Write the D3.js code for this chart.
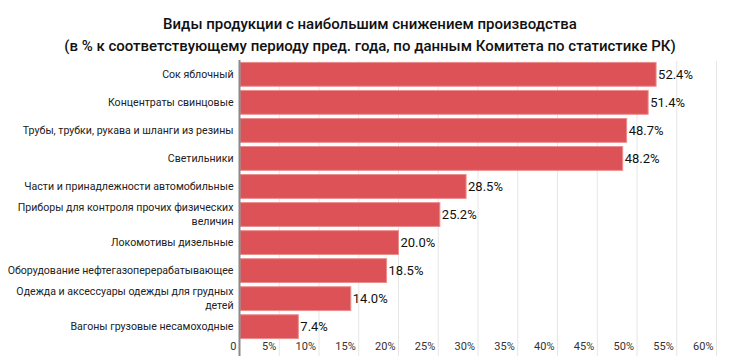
<!DOCTYPE html>
<html>
<head>
<meta charset="utf-8">
<script src="https://cdn.jsdelivr.net/npm/d3@7"></script>
<style>
  body { margin: 0; background: #fff; }
  svg { display: block; font-family: Roboto, sans-serif; }
</style>
</head>
<body>
<div id="chart"></div>
<script>
// data
var categories = [
  ['Сок яблочный'],
  ['Концентраты свинцовые'],
  ['Трубы, трубки, рукава и шланги из резины'],
  ['Светильники'],
  ['Части и принадлежности автомобильные'],
  ['Приборы для контроля прочих физических', 'величин'],
  ['Локомотивы дизельные'],
  ['Оборудование нефтегазоперерабатывающее'],
  ['Одежда и аксессуары одежды для грудных', 'детей'],
  ['Вагоны грузовые несамоходные']
]
var values = [52.4, 51.4, 48.7, 48.2, 28.5, 25.2, 20.0, 18.5, 14.0, 7.4]
var ticks = [0, 5, 10, 15, 20, 25, 30, 35, 40, 45, 50, 55, 60]
var titleLines = [
  'Виды продукции с наибольшим снижением производства',
  '(в % к соответствующему периоду пред. года, по данным Комитета по статистике РК)'
]

var width = 730, height = 363
var margin = { top: 61, right: 13, bottom: 9, left: 239.5 }
var innerW = width - margin.left - margin.right
var innerH = height - margin.top - margin.bottom

var svg = d3.select('#chart').append('svg')
  .attr('width', width)
  .attr('height', height)

svg.selectAll('.title')
  .data(titleLines)
  .enter()
  .append('text')
  .attr('class', 'title')
  .attr('x', 370)
  .attr('y', function (d, i) { return 29 + i * 22 })
  .attr('text-anchor', 'middle')
  .style('font-size', '15px')
  .style('font-weight', 500)
  .style('fill', '#111')
  .text(function (d) { return d })

var g = svg.append('g')
  .attr('transform', 'translate(' + margin.left + ',' + margin.top + ')')

var x = d3.scaleLinear().domain([0, 60]).range([0, 477])

var idx = d3.range(values.length)
var y = d3.scaleBand()
  .domain(idx)
  .range([0, 279])
  .paddingInner(0.15)
  .paddingOuter(0.05)

// gridlines
g.append('g')
  .selectAll('line')
  .data(ticks.slice(1))
  .enter()
  .append('line')
  .attr('x1', function (d) { return x(d) })
  .attr('x2', function (d) { return x(d) })
  .attr('y1', 0)
  .attr('y2', innerH + 2)
  .attr('stroke', '#e6e6e6')
  .attr('stroke-width', 1)

// bars
g.selectAll('.bar')
  .data(values)
  .enter()
  .append('rect')
  .attr('class', 'bar')
  .attr('x', 0.5)
  .attr('y', function (d, i) { return y(i) })
  .attr('width', function (d) { return x(d) - 0.5 })
  .attr('height', y.bandwidth())
  .attr('fill', '#dc5256')
  .attr('stroke', '#ea8d8f')
  .attr('stroke-width', 1)

// value labels
g.selectAll('.val')
  .data(values)
  .enter()
  .append('text')
  .attr('class', 'val')
  .attr('x', function (d) { return x(d) + 2 })
  .attr('y', function (d, i) { return y(i) + y.bandwidth() / 2 })
  .attr('dy', '0.36em')
  .style('font-size', '13px')
  .style('fill', '#111')
  .text(function (d) { return d.toFixed(1) + '%' })

// category labels
var cat = g.selectAll('.cat')
  .data(categories)
  .enter()
  .append('text')
  .attr('class', 'cat')
  .attr('text-anchor', 'end')
  .style('font-size', '10.6px')
  .style('fill', '#222')
  .attr('transform', function (d, i) {
    return 'translate(-6,' + (y(i) + y.bandwidth() / 2) + ')'
  })

cat.selectAll('tspan')
  .data(function (d) { return d.map(function (t, j) { return { t: t, j: j, n: d.length } }) })
  .enter()
  .append('tspan')
  .attr('x', 0)
  .attr('y', function (d) { return (d.j - (d.n - 1) / 2) * 14 })
  .attr('dy', '0.35em')
  .text(function (d) { return d.t })

// axis line
g.append('line')
  .attr('x1', 0).attr('x2', 0)
  .attr('y1', -1).attr('y2', innerH + 2)
  .attr('stroke', '#8a8a8a')
  .attr('stroke-width', 2)

// tick labels
g.selectAll('.tick-label')
  .data(ticks)
  .enter()
  .append('text')
  .attr('class', 'tick-label')
  .attr('x', function (d) { return x(d) - 3 })
  .attr('y', innerH - 4)
  .attr('text-anchor', 'end')
  .style('font-size', '11px')
  .style('fill', '#333')
  .text(function (d) { return d === 0 ? '0' : d + '%' })
</script>
</body>
</html>
